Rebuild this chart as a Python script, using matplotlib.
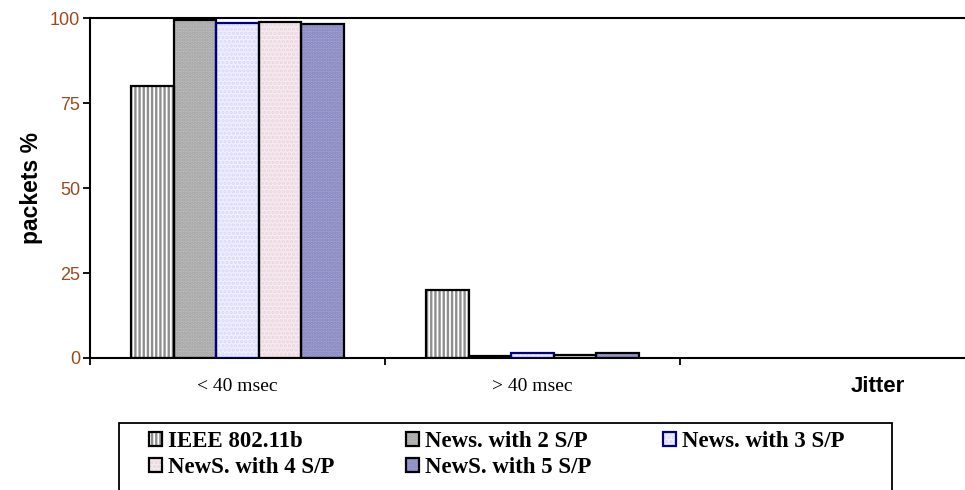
import matplotlib.pyplot as plt
import numpy as np
from matplotlib.legend_handler import HandlerTuple
from matplotlib.patches import Rectangle

plt.rcParams['hatch.linewidth'] = 1.7

categories = ['< 40 msec', '> 40 msec', '']
series = ['IEEE 802.11b', 'News. with 2 S/P', 'News. with 3 S/P',
          'NewS. with 4 S/P', 'NewS. with 5 S/P']
ieee = [80.0, 20.0]
news2 = [99.5, 0.6]
news3 = [98.4, 1.6]
news4 = [98.8, 1.0]
news5 = [98.2, 1.6]
yticks = [0, 25, 50, 75, 100]

values = [ieee, news2, news3, news4, news5]
faces = ['white', '#c0c0c0', '#f0f0ff', '#f7ebf0', '#a4a4d6']
hatches = ['||||', '.....', '....', '....', '.....']
hatch_cols = ['#8e8e8e', '#a0a0a0', '#d8d8f8', '#e8d6de', '#8282bc']
edges = ['black', 'black', '#000080', 'black', 'black']

W, H = 965, 490
fig = plt.figure(figsize=(W / 100, H / 100), dpi=100)
ax = fig.add_axes([90 / W, 1 - 358 / H, 1 - 90 / W, 340 / H])

x = np.arange(2) + 0.5
w = 0.1444
handles = []
for i, vals in enumerate(values):
    pos = x + (i - 2) * w
    h1 = ax.bar(pos, vals, w, color=faces[i], hatch=hatches[i],
                edgecolor=hatch_cols[i], linewidth=0, zorder=2)
    h2 = ax.bar(pos, vals, w, fill=False, edgecolor=edges[i],
                linewidth=1.6, zorder=3)
    handles.append((h1, h2))

ax.set_xlim(0, (W - 90) / 295)
ax.set_ylim(0, 100)
ax.set_yticks(yticks)
ax.tick_params(axis='y', labelsize=13, labelcolor='#9c4a1c', length=5, width=1.3,
               pad=2, labelfontfamily='Liberation Sans')
ax.set_xticks([0, 1, 2])
ax.set_xticklabels([])
ax.tick_params(axis='x', length=5, width=1.3)
for i, c in enumerate(categories):
    ax.text(i + 0.5, -8.3, c, ha='center', va='center', fontsize=14,
            family='Liberation Serif')
ax.text(2.67, -8.3, 'Jitter', ha='center', va='center', fontsize=16,
        fontweight='bold', family='Liberation Sans')

ax.set_ylabel('packets %', fontsize=16.5, fontweight='bold',
              family='Liberation Sans', labelpad=5)

for s in ['left', 'bottom', 'top']:
    ax.spines[s].set_linewidth(1.5)
ax.spines['right'].set_visible(False)

# legend entries row by row (matplotlib fills columns first)
order = [0, 3, 1, 4, 2]
leg = fig.legend([handles[k] for k in order], [series[k] for k in order],
                 ncol=3, loc='upper left', mode='expand',
                 bbox_to_anchor=(149 / W, 1 - 436 / H, (845 - 149) / W, 0.01),
                 handler_map={tuple: HandlerTuple(ndivide=1, pad=0)},
                 prop={'family': 'Liberation Serif', 'weight': 'bold', 'size': 16.5},
                 handlelength=0.55, handleheight=0.55, handletextpad=0.3,
                 borderpad=0, labelspacing=0.22, frameon=False,
                 borderaxespad=0)
fig.add_artist(Rectangle((119 / W, -0.05), (892 - 119) / W, 0.05 + 1 - 423 / H,
                         transform=fig.transFigure, fill=False,
                         edgecolor='black', linewidth=1.3))

fig.savefig('out.png', dpi=100)
